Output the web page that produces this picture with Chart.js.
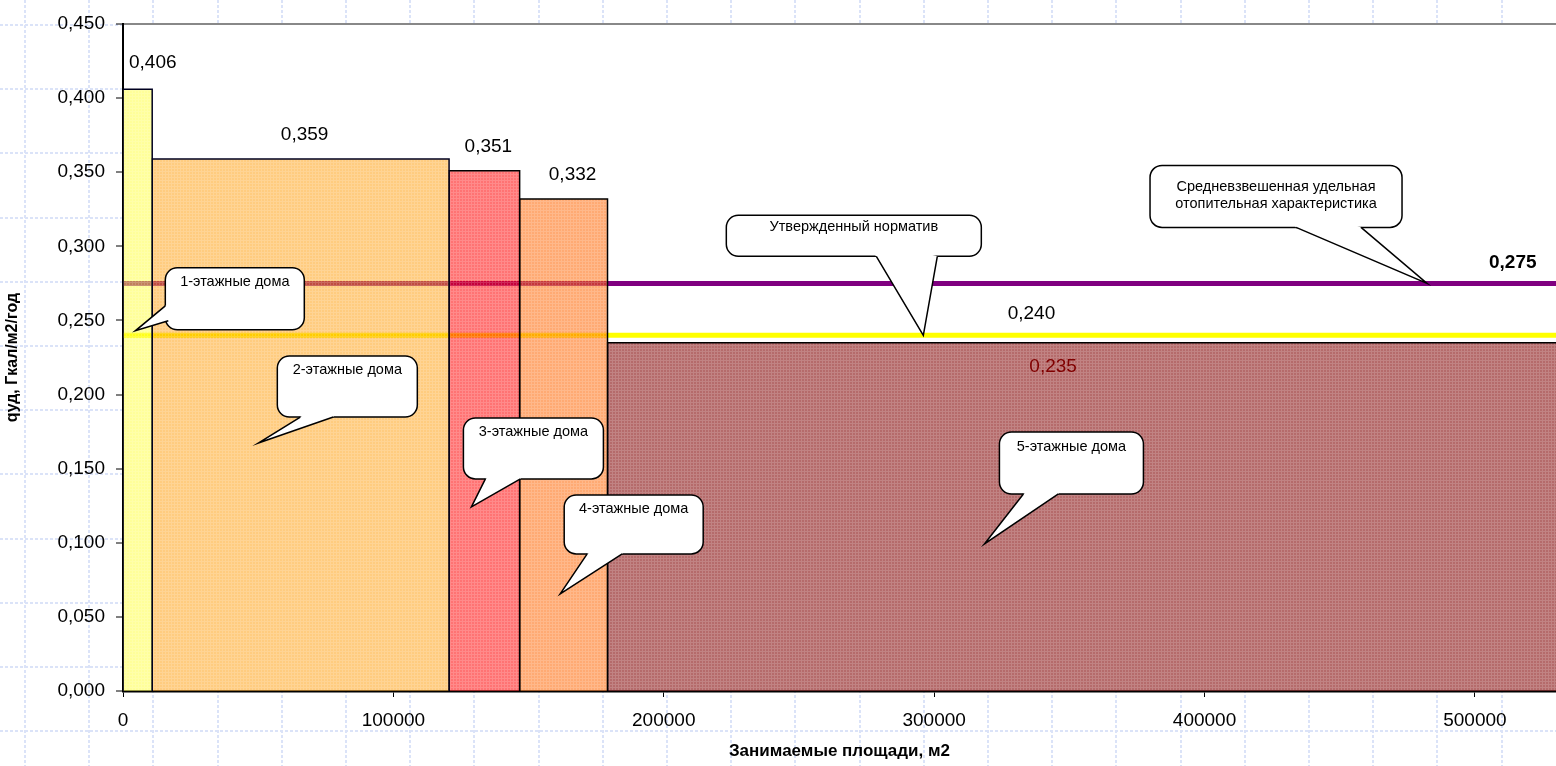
<!DOCTYPE html>
<html lang="ru">
<head>
<meta charset="utf-8">
<title>Удельная отопительная характеристика</title>
<script src="https://cdn.jsdelivr.net/npm/chart.js@4.4.1/dist/chart.umd.min.js"></script>
<style>
  html, body { margin: 0; padding: 0; background: #fff; }
  canvas { display: block; }
</style>
</head>
<body>
<canvas id="chart" width="1556" height="766"></canvas>
<script>
// группы домов по этажности
const houseTypes = ['1-этажные дома', '2-этажные дома', '3-этажные дома', '4-этажные дома', '5-этажные дома']
// границы групп по оси X (накопленная площадь, м2)
const areaEdges = [0, 10800, 120600, 146700, 179200, 560000]
// удельная отопительная характеристика групп, Гкал/м2/год
const qValues = [0.406, 0.359, 0.351, 0.332, 0.235]
const normValue = 0.240   // утвержденный норматив
const avgValue = 0.275    // средневзвешенная
const xTicks = [0, 100000, 200000, 300000, 400000, 500000]
const yTicks = [0, 0.05, 0.1, 0.15, 0.2, 0.25, 0.3, 0.35, 0.4, 0.45]

const FONT = '"Liberation Sans", Arial, sans-serif'
const fmt = v => v.toFixed(3).replace('.', ',')

// полупрозрачная заливка с мелкой сеткой, как в исходнике
function makeFill(r, g, b, a) {
    const c = document.createElement('canvas')
    c.width = 3
    c.height = 3
    const cx = c.getContext('2d')
    cx.fillStyle = `rgba(${r},${g},${b},${a})`
    cx.fillRect(0, 0, 3, 3)
    cx.fillStyle = 'rgba(255,255,255,0.16)'
    cx.fillRect(0, 0, 3, 1)
    cx.fillRect(0, 1, 1, 2)
    return cx.createPattern(c, 'repeat')
}
const ctx = document.getElementById('chart').getContext('2d')
const barFills = [
    makeFill(255, 255, 51, 0.5),
    makeFill(255, 153, 0, 0.5),
    makeFill(255, 0, 0, 0.55),
    makeFill(255, 100, 0, 0.55),
    makeFill(128, 0, 0, 0.58)
]

let datasets = []
// горизонтальные линии (под столбиками)
datasets.push({
    label: 'Средневзвешенная удельная отопительная характеристика',
    data: [{x: areaEdges[0], y: avgValue}, {x: areaEdges[areaEdges.length - 1], y: avgValue}],
    borderColor: '#800080', borderWidth: 5, order: 10
})
datasets.push({
    label: 'Утвержденный норматив',
    data: [{x: areaEdges[0], y: normValue}, {x: areaEdges[areaEdges.length - 1], y: normValue}],
    borderColor: '#ffff00', borderWidth: 5, order: 10
})
// столбики переменной ширины
qValues.forEach(function(q, i) {
    const x0 = areaEdges[i], x1 = areaEdges[i + 1]
    datasets.push({
        label: houseTypes[i],
        data: [{x: x0, y: 0}, {x: x0, y: q}, {x: x1, y: q}, {x: x1, y: 0}],
        borderColor: i < 2 ? '#000020' : '#000',
        borderWidth: 1.5,
        backgroundColor: barFills[i],
        fill: 'origin',
        order: 1
    })
})

// фон слайда: пунктирная сетка и белая область графика
const pageGrid = {
    id: 'pageGrid',
    beforeDraw(chart) {
        const {ctx, width, height, chartArea: a} = chart
        ctx.save()
        ctx.strokeStyle = '#dbe3f8'
        ctx.lineWidth = 2
        ctx.setLineDash([3, 2])
        for (let x = 25; x < width; x += 64.2) {
            ctx.beginPath(); ctx.moveTo(Math.round(x), 0); ctx.lineTo(Math.round(x), height); ctx.stroke()
        }
        for (let y = 25; y < height; y += 64.2) {
            ctx.beginPath(); ctx.moveTo(0, Math.round(y)); ctx.lineTo(width, Math.round(y)); ctx.stroke()
        }
        ctx.setLineDash([])
        ctx.fillStyle = '#fff'
        ctx.fillRect(a.left, a.top, a.right - a.left, a.bottom - a.top)
        ctx.restore()
    }
}

// подписи значений
const valueLabels = {
    id: 'valueLabels',
    afterDatasetsDraw(chart) {
        const {ctx, scales: {x, y}} = chart
        ctx.save()
        ctx.textBaseline = 'middle'
        ctx.fillStyle = '#000'
        ctx.font = '19px ' + FONT
        for (let i = 0; i < 4; i++) {
            const px0 = x.getPixelForValue(areaEdges[i])
            const px1 = x.getPixelForValue(areaEdges[i + 1])
            const py = y.getPixelForValue(qValues[i]) - 24
            if (i == 0) {
                ctx.textAlign = 'left'
                ctx.fillText(fmt(qValues[i]), px0 + 6, py - 2)
            } else {
                ctx.textAlign = 'center'
                ctx.fillText(fmt(qValues[i]), (px0 + px1) / 2 + (i == 3 ? 9 : 4), py)
            }
        }
        ctx.textAlign = 'center'
        // 5-этажные - подпись внутри столбика
        ctx.fillStyle = '#800000'
        ctx.fillText(fmt(qValues[4]), x.getPixelForValue(344000), y.getPixelForValue(qValues[4]) + 24)
        ctx.fillStyle = '#000'
        ctx.fillText(fmt(normValue), x.getPixelForValue(336000), y.getPixelForValue(normValue) - 22)
        ctx.font = 'bold 19px ' + FONT
        ctx.fillText(fmt(avgValue), x.getPixelForValue(514000), y.getPixelForValue(avgValue) - 21)
        ctx.restore()
    }
}

// выноски: tip - в единицах данных, box - смещение от острия в пикселях
const callouts = [
    {text: ['1-этажные дома'], tip: [4550, 0.243], box: [30, -63, 139, 62], base: [[0, 38], [3, 53]], ty: 14},
    {text: ['2-этажные дома'], tip: [50050, 0.1673], box: [19, -87, 140, 61], base: [[23, 61], [56, 61]], ty: 14},
    {text: ['3-этажные дома'], tip: [128860, 0.1242], box: [-8, -89, 140, 61], base: [[22, 61], [57, 61]], ty: 14},
    {text: ['4-этажные дома'], tip: [161700, 0.0655], box: [4, -99, 139, 59], base: [[23, 59], [58, 59]], ty: 14},
    {text: ['5-этажные дома'], tip: [318600, 0.0992], box: [15, -112, 144, 62], base: [[24, 62], [59, 62]], ty: 15},
    {text: ['Утвержденный норматив'], tip: [296000, normValue], box: [-197, -120, 255, 41], base: [[150, 41], [211, 41]], ty: 12},
    {text: ['Средневзвешенная удельная', 'отопительная характеристика'], tip: [482300, avgValue], box: [-277, -118, 252, 62], base: [[146, 62], [211, 62]], ty: 22}
]

function roundRectPath(ctx, x, y, w, h, r) {
    ctx.beginPath()
    ctx.moveTo(x + r, y)
    ctx.lineTo(x + w - r, y)
    ctx.arcTo(x + w, y, x + w, y + r, r)
    ctx.lineTo(x + w, y + h - r)
    ctx.arcTo(x + w, y + h, x + w - r, y + h, r)
    ctx.lineTo(x + r, y + h)
    ctx.arcTo(x, y + h, x, y + h - r, r)
    ctx.lineTo(x, y + r)
    ctx.arcTo(x, y, x + r, y, r)
    ctx.closePath()
}

const bubbles = {
    id: 'bubbles',
    afterDraw(chart) {
        const {ctx, scales: {x, y}} = chart
        ctx.save()
        callouts.forEach(function(c) {
            const tx = x.getPixelForValue(c.tip[0]), ty = y.getPixelForValue(c.tip[1])
            const bx = tx + c.box[0], by = ty + c.box[1], w = c.box[2], h = c.box[3]
            ctx.fillStyle = '#fff'
            ctx.strokeStyle = '#000'
            ctx.lineWidth = 1.5
            roundRectPath(ctx, bx, by, w, h, 12)
            ctx.fill()
            ctx.stroke()
            // хвост выноски
            const cx = bx + w / 2, cy = by + h / 2
            const pts = c.base.map(p => [bx + p[0], by + p[1]])
            const inner = pts.map(function(p) {
                const dx = cx - p[0], dy = cy - p[1], d = Math.hypot(dx, dy)
                return [p[0] + dx / d * 6, p[1] + dy / d * 6]
            })
            ctx.beginPath()
            ctx.moveTo(tx, ty)
            ctx.lineTo(pts[0][0], pts[0][1])
            ctx.lineTo(inner[0][0], inner[0][1])
            ctx.lineTo(inner[1][0], inner[1][1])
            ctx.lineTo(pts[1][0], pts[1][1])
            ctx.closePath()
            ctx.fill()
            ctx.beginPath()
            ctx.moveTo(pts[0][0], pts[0][1])
            ctx.lineTo(tx, ty)
            ctx.lineTo(pts[1][0], pts[1][1])
            ctx.stroke()
            ctx.fillStyle = '#000'
            ctx.font = '14.5px ' + FONT
            ctx.textAlign = 'center'
            ctx.textBaseline = 'middle'
            c.text.forEach((t, k) => ctx.fillText(t, cx, by + c.ty + k * 17))
        })
        ctx.restore()
    }
}

Chart.defaults.font.family = FONT
Chart.defaults.color = '#000'

let chartGraph = new Chart(ctx, {
    type: 'line',
    data: { datasets: datasets },
    options: {
        responsive: false,
        animation: false,
        devicePixelRatio: 1,
        events: [],
        layout: { padding: { top: 24, left: 0, right: 0, bottom: 0 } },
        elements: { point: { radius: 0, hoverRadius: 0 }, line: { tension: 0 } },
        plugins: { legend: { display: false }, tooltip: { enabled: false } },
        scales: {
            x: {
                type: 'linear',
                min: 0,
                max: 530000,
                afterBuildTicks: s => { s.ticks = xTicks.map(v => ({value: v})) },
                afterFit: s => { s.height = 75 },
                ticks: { font: { size: 19 }, color: '#000', padding: 12, maxRotation: 0, autoSkip: false, callback: v => String(v) },
                grid: { drawOnChartArea: false, tickLength: 6, tickColor: '#000', tickWidth: 1 },
                border: { color: '#000', width: 2.5 },
                title: { display: true, text: 'Занимаемые площади, м2', color: '#000', font: { size: 17, weight: 'bold' }, padding: { top: 0, bottom: 4 } }
            },
            y: {
                type: 'linear',
                min: 0,
                max: 0.45,
                afterBuildTicks: s => { s.ticks = yTicks.map(v => ({value: v})) },
                afterFit: s => { s.width = 123 },
                ticks: { font: { size: 19 }, color: '#000', padding: 11, callback: v => fmt(v) },
                grid: {
                    color: c => (c.tick && Math.abs(c.tick.value - 0.45) < 1e-9) ? '#888888' : 'rgba(0,0,0,0)',
                    lineWidth: 2,
                    tickLength: 7,
                    tickColor: '#000',
                    tickWidth: 1
                },
                border: { color: '#000', width: 2 },
                title: { display: true, text: 'qуд, Гкал/м2/год', color: '#000', font: { size: 16, weight: 'bold' }, padding: { top: 3, bottom: 0 } }
            }
        }
    },
    plugins: [pageGrid, valueLabels, bubbles]
});
</script>
</body>
</html>
